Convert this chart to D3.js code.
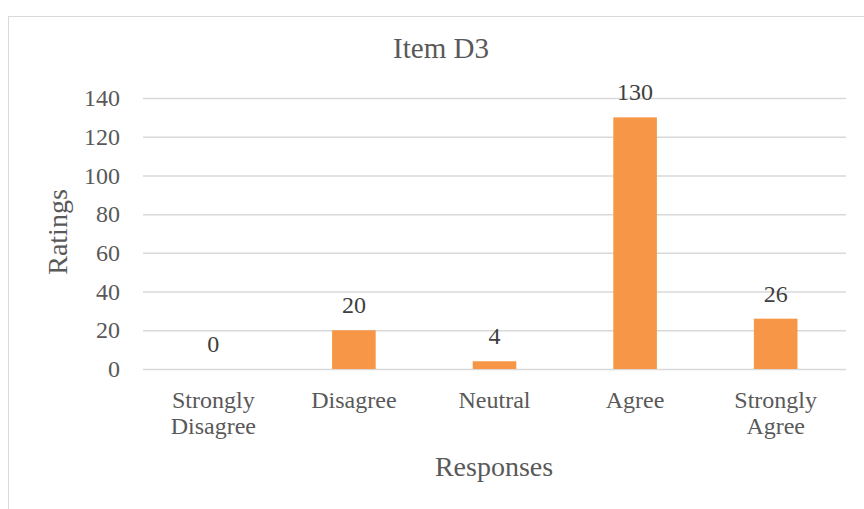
<!DOCTYPE html>
<html>
<head>
<meta charset="utf-8">
<script src="https://cdn.jsdelivr.net/npm/d3@7"></script>
<style>
  body { margin: 0; background: #fff; }
  text { font-family: "Liberation Serif", serif; fill: #595959; }
</style>
</head>
<body>
<svg width="864" height="509"></svg>
<script>
// data
var categories = [["Strongly", "Disagree"], ["Disagree"], ["Neutral"], ["Agree"], ["Strongly", "Agree"]];
var ratings = [0, 20, 4, 130, 26];
var yTicks = [0, 20, 40, 60, 80, 100, 120, 140];

var svg = d3.select("svg");

// chart frame (runs off the right/bottom edge)
svg.append("rect")
    .attr("x", 8.5).attr("y", 16.5)
    .attr("width", 1000).attr("height", 1000)
    .attr("fill", "none")
    .attr("stroke", "#d9d9d9");

var xScale = d3.scaleBand()
    .domain(d3.range(categories.length))
    .range([143, 846])
    .paddingInner(0.69).paddingOuter(0.345);

var yScale = d3.scaleLinear()
    .domain([0, 140]).range([369, 98]);

// gridlines + y labels
var yAxis = svg.append("g").attr("class", "y axis")
    .attr("transform", "translate(143,0)")
    .call(d3.axisLeft(yScale).tickValues(yTicks).tickSize(-703).tickPadding(23));
yAxis.select(".domain").remove();
yAxis.selectAll("line").attr("stroke", "#d9d9d9").attr("stroke-width", 1.5);
yAxis.selectAll("text")
    .style("font-family", "Liberation Serif").style("font-size", "24px")
    .attr("fill", "#595959");

// bars
svg.selectAll(".bar")
    .data(ratings)
    .enter()
    .append("rect")
    .attr("class", "bar")
    .attr("x", function(d, i) { return xScale(i); })
    .attr("y", function(d) { return yScale(d); })
    .attr("width", xScale.bandwidth())
    .attr("height", function(d) { return yScale(0) - yScale(d); })
    .attr("fill", "#f79646");

// value labels
svg.selectAll(".val")
    .data(ratings)
    .enter()
    .append("text")
    .attr("class", "val")
    .attr("x", function(d, i) { return xScale(i) + xScale.bandwidth() / 2; })
    .attr("y", function(d) { return yScale(d) - 17; })
    .attr("text-anchor", "middle")
    .style("font-size", "24px")
    .style("fill", "#404040")
    .text(function(d) { return d; });

// category labels
var cat = svg.selectAll(".cat")
    .data(categories)
    .enter()
    .append("text")
    .attr("class", "cat")
    .attr("text-anchor", "middle")
    .style("font-size", "24px")
    .attr("transform", function(d, i) { return "translate(" + (xScale(i) + xScale.bandwidth() / 2) + ",408)"; });
cat.selectAll("tspan")
    .data(function(d) { return d; })
    .enter()
    .append("tspan")
    .attr("x", 0)
    .attr("dy", function(d, i) { return i === 0 ? 0 : 26; })
    .text(function(d) { return d; });

// titles
svg.append("text")
    .attr("x", 441).attr("y", 58)
    .attr("text-anchor", "middle")
    .style("font-size", "29px")
    .text("Item D3");

svg.append("text")
    .attr("x", 494).attr("y", 476)
    .attr("text-anchor", "middle")
    .style("font-size", "28px")
    .text("Responses");

svg.append("text")
    .attr("transform", "translate(67,232) rotate(-90)")
    .attr("text-anchor", "middle")
    .style("font-size", "28px")
    .text("Ratings");
</script>
</body>
</html>
